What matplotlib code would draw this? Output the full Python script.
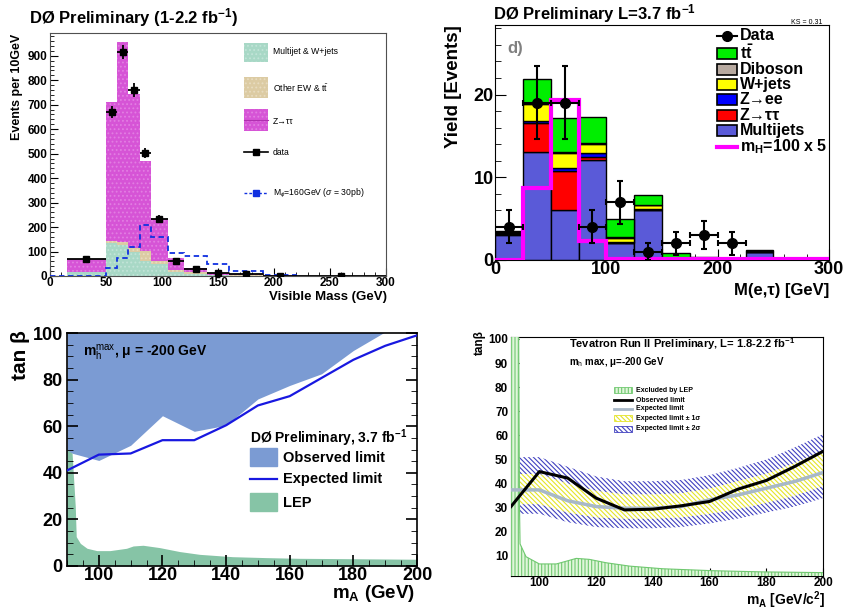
import numpy as np
import matplotlib
matplotlib.use("Agg")
import matplotlib.pyplot as plt
from matplotlib.patches import Rectangle
from matplotlib.lines import Line2D
from matplotlib.ticker import MultipleLocator

plt.rcParams['font.family'] = ['Liberation Sans', 'DejaVu Sans']
plt.rcParams['mathtext.fontset'] = 'custom'
plt.rcParams['mathtext.rm'] = 'Liberation Sans'
plt.rcParams['mathtext.it'] = 'Liberation Sans:italic'
plt.rcParams['mathtext.bf'] = 'Liberation Sans:bold'
plt.rcParams['hatch.linewidth'] = 0.8

# ---------------- data: visible mass (top left) ----------------
vis_edges = [15, 50, 60, 70, 80, 90, 105, 120, 140, 160, 190, 220, 300]
vis_multijet = [15, 135, 125, 100, 60, 48, 18, 10, 4, 2, 1, 0.3]
vis_other_ew = [3, 10, 12, 13, 44, 14, 7, 5, 2, 1, 0.5, 0.2]
vis_ztautau = [52, 565, 818, 630, 366, 171, 50, 17, 6, 5, 1.5, 0.5]
vis_data = [70, 670, 915, 760, 503, 233, 62, 30, 12, 8, 2, 1]
vis_data_err = [8, 26, 30, 28, 22, 15, 8, 5.5, 3.5, 3, 1.5, 1]
vis_sig_edges = [0, 50, 60, 70, 80, 90, 105, 120, 140, 160, 190, 220]
vis_sig160 = [0, 32, 75, 120, 207, 158, 93, 83, 50, 22, 5]

# ---------------- data: M(e,tau) (top right) ----------------
met_edges = [0, 25, 50, 75, 100, 125, 150, 175, 200, 225, 250, 275, 300]
met_multijets = [3.0, 13.1, 6.0, 12.1, 2.0, 6.0, 0.1, 0.05, 0.05, 1.0, 0.05, 0.05]
met_ztautau = [0.15, 3.4, 4.8, 0.4, 0.1, 0.1, 0.05, 0.0, 0.0, 0.0, 0.0, 0.0]
met_zee = [0.1, 0.3, 0.3, 0.4, 0.1, 0.1, 0.0, 0.0, 0.0, 0.0, 0.0, 0.0]
met_wjets = [0.1, 2.1, 1.8, 1.1, 0.5, 0.4, 0.1, 0.05, 0.0, 0.05, 0.0, 0.0]
met_diboson = [0.05, 0.1, 0.2, 0.1, 0.1, 0.1, 0.05, 0.05, 0.0, 0.05, 0.0, 0.0]
met_ttbar = [0.1, 2.9, 4.1, 3.2, 2.1, 1.1, 0.5, 0.25, 0.1, 0.1, 0.05, 0.05]
met_signal = [0, 8.7, 19.3, 2.3, 0.1, 0.1, 0.1, 0.1, 0.1, 0.1, 0.1, 0.1]
met_data_x = [12.5, 37.5, 62.5, 87.5, 112.5, 137.5, 162.5, 187.5, 212.5]
met_data = [4, 19, 19, 4, 7, 1, 2, 3, 2]
met_data_err = [2.0, 4.4, 4.4, 2.0, 2.6, 1.0, 1.4, 1.7, 1.4]

# ---------------- data: D0 tan(beta) limit (bottom left) ----------------
ma_points = [90, 100, 110, 120, 130, 140, 150, 160, 170, 180, 190, 200]
d0_observed = [49.0, 45.3, 51.8, 64.5, 57.8, 60.4, 71.7, 77.5, 82.5, 92.5, 100.5, 101.0]
d0_expected = [41.0, 47.8, 48.3, 54.0, 54.0, 60.4, 68.9, 72.9, 80.7, 88.5, 94.5, 99.0]
lep_ma = [90, 91.6, 92.6, 92.9, 94.2, 96.3, 99.4, 103.5, 108.7, 110.8, 113.9, 119.1,
          125.4, 131.7, 142, 152.5, 163, 173, 200]
lep_tanb = [49.9, 48.4, 25.5, 12.6, 9.7, 7.6, 6.6, 6.6, 7.6, 8.6, 8.9, 7.9,
            6.2, 5.0, 4.0, 3.6, 3.3, 3.2, 2.9]

# ---------------- data: Tevatron combination (bottom right) ----------------
tev_observed = [30.5, 45.0, 42.3, 34.0, 29.1, 29.4, 30.8, 32.6, 37.7, 41.3, 47.1, 53.4]
tev_expected = [37.4, 37.4, 32.9, 30.5, 29.8, 29.8, 30.5, 33.3, 35.3, 38.1, 40.9, 44.6]
tev_1s_lo = [31.5, 31.5, 28.0, 26.0, 25.5, 25.5, 26.0, 27.5, 29.5, 32.0, 35.0, 39.0]
tev_1s_hi = [44.0, 44.0, 40.0, 37.0, 35.5, 35.5, 36.0, 38.0, 41.0, 44.0, 48.5, 53.5]
tev_2s_lo = [27.5, 27.5, 24.0, 22.0, 21.5, 21.5, 22.0, 23.5, 25.5, 28.0, 30.5, 34.0]
tev_2s_hi = [51.0, 51.0, 47.0, 43.0, 41.0, 41.0, 41.5, 43.5, 46.5, 50.0, 55.0, 60.5]
tev_lep_ma = [90, 92.7, 93.0, 93.2, 95.3, 100, 106, 110, 113, 117.6, 123.5, 131.8,
              143.5, 161, 178.8, 200]
tev_lep_tanb = [101, 101, 30, 15, 9.7, 6.7, 6.7, 8.0, 9.0, 8.6, 7.2, 5.8,
                4.7, 3.9, 3.4, 3.1]

W, H = 844, 611
fig = plt.figure(figsize=(W / 100, H / 100), dpi=100)


def px_axes(l, t, r, b):
    return fig.add_axes([l / W, 1 - b / H, (r - l) / W, (b - t) / H])


def ftext(x, y, s, **kw):
    kw.setdefault('va', 'center')
    fig.text(x / W, 1 - y / H, s, **kw)


def fbox(x0, y0, x1, y1, **kw):
    fig.patches.append(Rectangle((x0 / W, 1 - y1 / H), (x1 - x0) / W, (y1 - y0) / H,
                                 transform=fig.transFigure, **kw))


def fline(x0, x1, y, **kw):
    fig.lines.append(Line2D([x0 / W, x1 / W], [1 - y / H, 1 - y / H],
                            transform=fig.transFigure, **kw))


def fmarker(x, y, **kw):
    fig.lines.append(Line2D([x / W], [1 - y / H], transform=fig.transFigure, **kw))


def bold_ticks(ax, size):
    for lab in ax.get_xticklabels() + ax.get_yticklabels():
        lab.set_fontweight('bold')
        lab.set_fontsize(size)


def stack_bars(ax, edges, comps, colors, lw, edgecolor='none', hatches=None, hatch_cols=None):
    edges = np.asarray(edges, float)
    left, width = edges[:-1], np.diff(edges)
    bottom = np.zeros(len(left))
    for i, (vals, col) in enumerate(zip(comps, colors)):
        vals = np.asarray(vals, float)
        kw = dict(edgecolor=edgecolor, linewidth=lw)
        if hatches is not None:
            kw = dict(edgecolor=hatch_cols[i], hatch=hatches[i], linewidth=0)
        ax.bar(left, vals, width=width, bottom=bottom, align='edge', color=col,
               zorder=2, **kw)
        bottom = bottom + vals
    return bottom


# ================= top left =================
ax1 = px_axes(50, 33, 386, 276)
c_mj, c_ew, c_zt = '#a8d8c6', '#dccba3', '#d654d6'
h_mj, h_ew, h_zt = '#c2e4d8', '#e8dcc0', '#e27ee2'
stack_bars(ax1, vis_edges, [vis_multijet, vis_other_ew, vis_ztautau], [c_mj, c_ew, c_zt], 0,
           hatches=['....', '....', '....'], hatch_cols=[h_mj, h_ew, h_zt])
ax1.stairs(vis_sig160, vis_sig_edges, color='#1030e0', linestyle=(0, (3, 2)), lw=1.3, zorder=3)
e = np.asarray(vis_edges, float)
cx = 0.5 * (e[:-1] + e[1:])
ax1.errorbar(cx, vis_data, xerr=[cx - e[:-1], e[1:] - cx], yerr=vis_data_err, fmt='s',
             color='black', ms=4, elinewidth=1.3, capsize=0, zorder=4)
ax1.set_xlim(0, 300)
ax1.set_ylim(0, 993)
ax1.xaxis.set_major_locator(MultipleLocator(50))
ax1.xaxis.set_minor_locator(MultipleLocator(10))
ax1.yaxis.set_major_locator(MultipleLocator(100))
ax1.yaxis.set_minor_locator(MultipleLocator(20))
ax1.tick_params(which='both', direction='in', top=False, right=False)
ax1.tick_params(axis='x', pad=1)
ax1.tick_params(axis='y', pad=2)
ax1.tick_params(which='major', length=6)
ax1.tick_params(which='minor', length=3)
for s in ax1.spines.values():
    s.set_color('#505050')
bold_ticks(ax1, 8.5)
ftext(29, 18, r'DØ Preliminary (1-2.2 fb$^{\mathbf{-1}}$)', fontsize=12, fontweight='bold')
ftext(17, 87, 'Events per 10GeV', fontsize=9, fontweight='bold', rotation=90, ha='center')
ftext(387, 297, 'Visible Mass (GeV)', fontsize=9.5, fontweight='bold', ha='right')
# legend
fbox(244, 43, 268, 62, facecolor=c_mj, edgecolor=h_mj, hatch='....', lw=0)
ftext(273, 52, 'Multijet & W+jets', fontsize=6.2)
fbox(244, 77, 268, 98, facecolor=c_ew, edgecolor=h_ew, hatch='....', lw=0)
ftext(273, 88, r'Other EW & $\mathrm{t\bar{t}}$', fontsize=6.2)
fbox(244, 109, 268, 131, facecolor=c_zt, edgecolor=h_zt, hatch='....', lw=0)
fline(244, 268, 120, color='#b030b0', lw=0.8)
ftext(273, 121, 'Z→ττ', fontsize=6.2)
fline(244, 268, 152, color='black', lw=1.2)
fmarker(256, 152, marker='s', color='black', ms=4)
ftext(273, 152, 'data', fontsize=6.2)
fline(244, 268, 193, color='#1030e0', lw=1.0, linestyle=(0, (2, 1.5)))
fmarker(256, 193, marker='s', color='#1030e0', ms=4)
ftext(273, 193, r'M$_{\phi}$=160GeV ($\sigma$ = 30pb)', fontsize=6.2)

# ================= top right =================
ax2 = px_axes(495, 25, 829, 260)
col2 = ['#5a5ad8', '#ff0000', '#0000ff', '#ffff00', '#b8aaa0', '#00ee00']
stack_bars(ax2, met_edges, [met_multijets, met_ztautau, met_zee, met_wjets, met_diboson, met_ttbar],
           col2, 1.0, edgecolor='black')
ax2.stairs(met_signal, met_edges, color='#ff00ff', lw=3, zorder=3)
ax2.errorbar(met_data_x, met_data, xerr=12.5, yerr=met_data_err, fmt='o', color='black',
             ms=7, elinewidth=1.5, capsize=2.5, capthick=1.5, zorder=4)
ax2.set_xlim(0, 300)
ax2.set_ylim(0, 28.4)
ax2.xaxis.set_major_locator(MultipleLocator(100))
ax2.xaxis.set_minor_locator(MultipleLocator(20))
ax2.yaxis.set_major_locator(MultipleLocator(10))
ax2.yaxis.set_minor_locator(MultipleLocator(2))
ax2.tick_params(which='both', direction='in', top=False, right=False, pad=1)
ax2.tick_params(which='major', length=8)
ax2.tick_params(which='minor', length=4)
bold_ticks(ax2, 13)
ftext(493, 14, r'DØ Preliminary L=3.7 fb$^{\mathbf{-1}}$', fontsize=12, fontweight='bold')
ftext(822, 22, 'KS = 0.31', fontsize=5, ha='right')
ftext(453, 87, 'Yield [Events]', fontsize=13.5, fontweight='bold', rotation=90, ha='center')
ftext(829, 290, 'M(e,τ) [GeV]', fontsize=12, fontweight='bold', ha='right')
ftext(507, 49, 'd)', fontsize=12, fontweight='bold', color='#808080')
# legend
rows = [36, 53, 69, 84, 99, 115, 131, 147]
fline(717, 737, rows[0], color='black', lw=1.5)
fmarker(727, rows[0], marker='o', color='black', ms=7)
labels2 = [r'$\mathbf{t\bar{t}}$', 'Diboson', 'W+jets', 'Z→ee', 'Z→ττ', 'Multijets']
cols2 = ['#00ee00', '#b8aaa0', '#ffff00', '#0000ff', '#ff0000', '#5a5ad8']
ftext(740, rows[0], 'Data', fontsize=11.5, fontweight='bold')
for yy, lab, cc in zip(rows[1:7], labels2, cols2):
    fbox(717, yy - 5.5, 737, yy + 5.5, facecolor=cc, edgecolor='black', lw=1.2)
    ftext(740, yy, lab, fontsize=11.5, fontweight='bold')
fline(717, 737, rows[7], color='#ff00ff', lw=3)
ftext(740, rows[7], r'm$_{\mathbf{H}}$=100 x 5', fontsize=11.5, fontweight='bold')

# ================= bottom left =================
ax3 = px_axes(67, 333, 417, 566)
c_obs, c_lep, c_exp = '#7b9bd3', '#86c4a6', '#1818e0'
ax3.fill_between(ma_points, d0_observed, 105, color=c_obs, lw=0, zorder=1)
ax3.fill_between(lep_ma, 0, lep_tanb, color=c_lep, lw=0, zorder=1)
ax3.plot(ma_points, d0_expected, color=c_exp, lw=1.6, zorder=3)
ax3.set_xlim(90, 200)
ax3.set_ylim(0, 100)
ax3.xaxis.set_major_locator(MultipleLocator(20))
ax3.xaxis.set_minor_locator(MultipleLocator(5))
ax3.yaxis.set_major_locator(MultipleLocator(20))
ax3.yaxis.set_minor_locator(MultipleLocator(5))
ax3.tick_params(which='both', direction='in', top=False, right=True)
ax3.tick_params(axis='x', pad=1)
ax3.tick_params(axis='y', pad=3)
ax3.tick_params(which='major', length=8, width=1.2)
ax3.tick_params(which='minor', length=4)
for s in ax3.spines.values():
    s.set_linewidth(1.2)
bold_ticks(ax3, 13)
ftext(20, 355, 'tan β', fontsize=15, fontweight='bold', rotation=90, ha='center')
ftext(415, 594, r'm$_{\mathbf{A}}$ (GeV)', fontsize=13.5, fontweight='bold', ha='right')
ftext(83, 353, r'm$_\mathrm{h}^\mathrm{max}$, μ = -200 GeV', fontsize=10, fontweight='bold')
ftext(250, 438, r'DØ Preliminary, 3.7 fb$^{\mathbf{-1}}$', fontsize=10, fontweight='bold')
fbox(250, 448, 277, 466, color=c_obs)
ftext(283, 458, 'Observed limit', fontsize=10.5, fontweight='bold')
fline(250, 277, 479, color=c_exp, lw=1.6)
ftext(283, 479, 'Expected limit', fontsize=10.5, fontweight='bold')
fbox(250, 493, 277, 511, color=c_lep)
ftext(283, 503, 'LEP', fontsize=10.5, fontweight='bold')

# ================= bottom right =================
hatch_diag = '\\' * 7
ax4 = px_axes(511, 337, 823, 576)
ax4.fill_between(ma_points, tev_2s_lo, tev_2s_hi, facecolor='white', edgecolor='#4040c0',
                 hatch=hatch_diag, lw=0, zorder=1)
ax4.fill_between(ma_points, tev_1s_lo, tev_1s_hi, facecolor='white', edgecolor='#e4e428',
                 hatch=hatch_diag, lw=0, zorder=2)
ax4.fill_between(tev_lep_ma, 0, tev_lep_tanb, facecolor='#e0f6da', edgecolor='#70c870',
                 hatch='|' * 5, lw=0, zorder=3)
ax4.plot(tev_lep_ma, tev_lep_tanb, color='#70c870', lw=0.8, zorder=3)
ax4.plot(ma_points, tev_expected, color='#a8b8c8', lw=2.5, zorder=4)
ax4.plot(ma_points, tev_observed, color='black', lw=2.2, zorder=5)
ax4.set_xlim(90, 200)
ax4.set_ylim(1.7, 100.8)
ax4.xaxis.set_major_locator(MultipleLocator(20))
ax4.xaxis.set_minor_locator(MultipleLocator(5))
ax4.yaxis.set_minor_locator(MultipleLocator(2))
ax4.set_yticks([10, 20, 30, 40, 50, 60, 70, 80, 90, 100])
ax4.tick_params(which='both', direction='in', top=False, right=False)
ax4.tick_params(axis='x', pad=1)
ax4.tick_params(axis='y', pad=2)
ax4.tick_params(which='major', length=6)
ax4.tick_params(which='minor', length=3)
bold_ticks(ax4, 8.5)
ftext(480, 343, 'tanβ', fontsize=8.5, fontweight='bold', rotation=90, ha='center')
ftext(825, 600, r'm$_{\mathbf{A}}$ [GeV/c$^{\mathbf{2}}$]', fontsize=10, fontweight='bold', ha='right')
ftext(569, 344, r'Tevatron Run II Preliminary, L= 1.8-2.2 fb$^{\mathbf{-1}}$', fontsize=8, fontweight='bold')
ftext(569, 362, r'm$_\mathrm{h}$ max, μ=-200 GeV', fontsize=7, fontweight='bold')
fbox(614, 387, 632, 393, facecolor='#e0f6da', edgecolor='#70c870', hatch='|' * 5, lw=0.6)
ftext(636, 390, 'Excluded by LEP', fontsize=5, fontweight='bold')
fline(614, 632, 400, color='black', lw=2)
ftext(636, 400, 'Observed limit', fontsize=5, fontweight='bold')
fline(614, 632, 409, color='#a8b8c8', lw=2)
ftext(636, 409, 'Expected limit', fontsize=5, fontweight='bold')
fbox(614, 415, 632, 421, facecolor='white', edgecolor='#e4e428', hatch=hatch_diag, lw=0.6)
ftext(636, 418, 'Expected limit ± 1σ', fontsize=5, fontweight='bold')
fbox(614, 426, 632, 432, facecolor='white', edgecolor='#4040c0', hatch=hatch_diag, lw=0.6)
ftext(636, 429, 'Expected limit ± 2σ', fontsize=5, fontweight='bold')

fig.savefig('out.png', dpi=100)
